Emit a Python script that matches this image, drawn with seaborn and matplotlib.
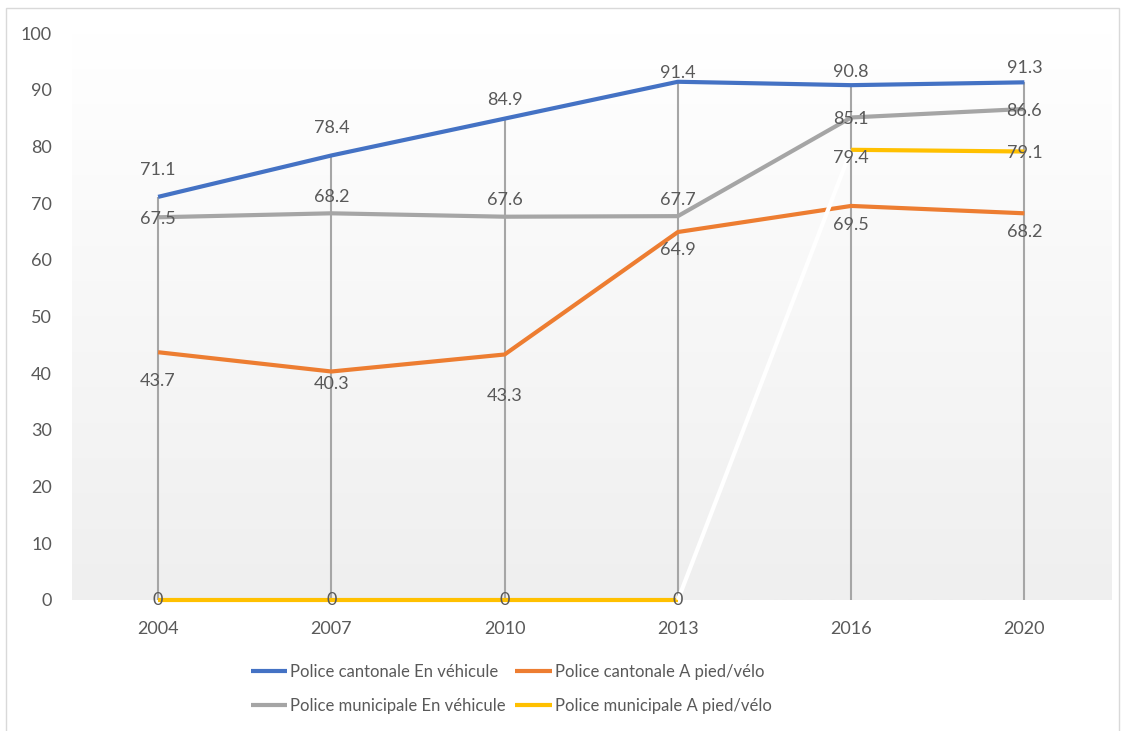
import numpy as np
import matplotlib
matplotlib.use("Agg")
import matplotlib.pyplot as plt
import seaborn as sns
import pandas as pd
from matplotlib.patches import Rectangle
from matplotlib.colors import LinearSegmentedColormap

years = ["2004", "2007", "2010", "2013", "2016", "2020"]
cant_veh = [71.1, 78.4, 84.9, 91.4, 90.8, 91.3]
cant_pied = [43.7, 40.3, 43.3, 64.9, 69.5, 68.2]
muni_veh = [67.5, 68.2, 67.6, 67.7, 85.1, 86.6]
muni_pied = [0, 0, 0, 0, 79.4, 79.1]
yticks = [0, 10, 20, 30, 40, 50, 60, 70, 80, 90, 100]

series_names = ["Police cantonale En véhicule", "Police cantonale A pied/vélo",
                "Police municipale En véhicule", "Police municipale A pied/vélo"]
series_vals = [cant_veh, cant_pied, muni_veh, muni_pied]
colors = ["#4472C4", "#ED7D31", "#A5A5A5", "#FFC000"]
# label vertical offsets in pixels (negative = above)
label_dy = [
    [-27, -27.5, -18.6, -8.8, -13, -14.3],
    [29, 12.5, 41.5, 18, 19, 18.7],
    [1.7, -16.3, -16.7, -16, 1.5, 2],
    [0, 0, 0, 0, 8, 1.5],
]

sns.set_theme(style="white")
plt.rcParams["font.family"] = ["Lato", "DejaVu Sans"]
txt = "#595959"

fig = plt.figure(figsize=(11.25, 7.31), dpi=100)
ax = fig.add_axes([71.5/1125, 1-600/731, (1111-71.5)/1125, (600-33)/731])

# gradient background
grad = np.linspace(0, 1, 256).reshape(-1, 1)
cmap = LinearSegmentedColormap.from_list("g", ["#ffffff", "#efefef"])
ax.imshow(grad, aspect="auto", cmap=cmap, extent=[0, 1, 0, 1], transform=ax.transAxes, zorder=0)

x = np.arange(len(years))
# drop lines
tops = np.max(np.array(series_vals), axis=0)
ax.vlines(x, 0, tops, color="#A6A6A6", lw=1.5, zorder=1)

for name, vals, c in zip(series_names, series_vals, colors):
    df = pd.DataFrame({"x": x, "y": vals})
    if name == series_names[3]:
        sns.lineplot(data=df.iloc[:4], x="x", y="y", color=c, lw=3, ax=ax, zorder=3, label=name)
        sns.lineplot(data=df.iloc[3:5], x="x", y="y", color="white", lw=3, ax=ax, zorder=3)
        sns.lineplot(data=df.iloc[4:], x="x", y="y", color=c, lw=3, ax=ax, zorder=3)
    else:
        sns.lineplot(data=df, x="x", y="y", color=c, lw=3, ax=ax, zorder=3, label=name)
for ln in ax.lines:
    ln.set_clip_on(False)
    ln.set_solid_capstyle("butt")

for vals, dys in zip(series_vals, label_dy):
    for xi, v, dy in zip(x, vals, dys):
        ax.annotate(f"{v:g}", (xi, v), xytext=(0, -dy), textcoords="offset pixels",
                    ha="center", va="center", fontsize=13, color=txt, zorder=5)

ax.set_xlim(-0.5, len(years) - 0.5)
ax.set_ylim(0, 100)
ax.set_xticks(x)
ax.set_xticklabels(years)
ax.set_yticks(yticks)
ax.set_xlabel("")
ax.set_ylabel("")
ax.tick_params(axis="both", length=0, labelsize=13, labelcolor=txt)
ax.tick_params(axis="y", pad=14)
ax.tick_params(axis="x", pad=15)
for s in ax.spines.values():
    s.set_visible(False)
ax.grid(False)

ax.legend_.remove()
h, l = ax.get_legend_handles_labels()
order = [0, 2, 1, 3]
fig.legend([h[i] for i in order], [l[i] for i in order], ncol=2, loc="center",
           bbox_to_anchor=(511/1125, 1-689/731),
           frameon=False, fontsize=12, labelcolor=txt, handlelength=2.2, handletextpad=0.15,
           columnspacing=0.6, labelspacing=1.1)

fig.add_artist(Rectangle((6/1125, -0.01), (1119-6)/1125, 1-8/731+0.01, transform=fig.transFigure,
                         fill=False, edgecolor="#D9D9D9", lw=1))

fig.savefig("out.png", dpi=100)
